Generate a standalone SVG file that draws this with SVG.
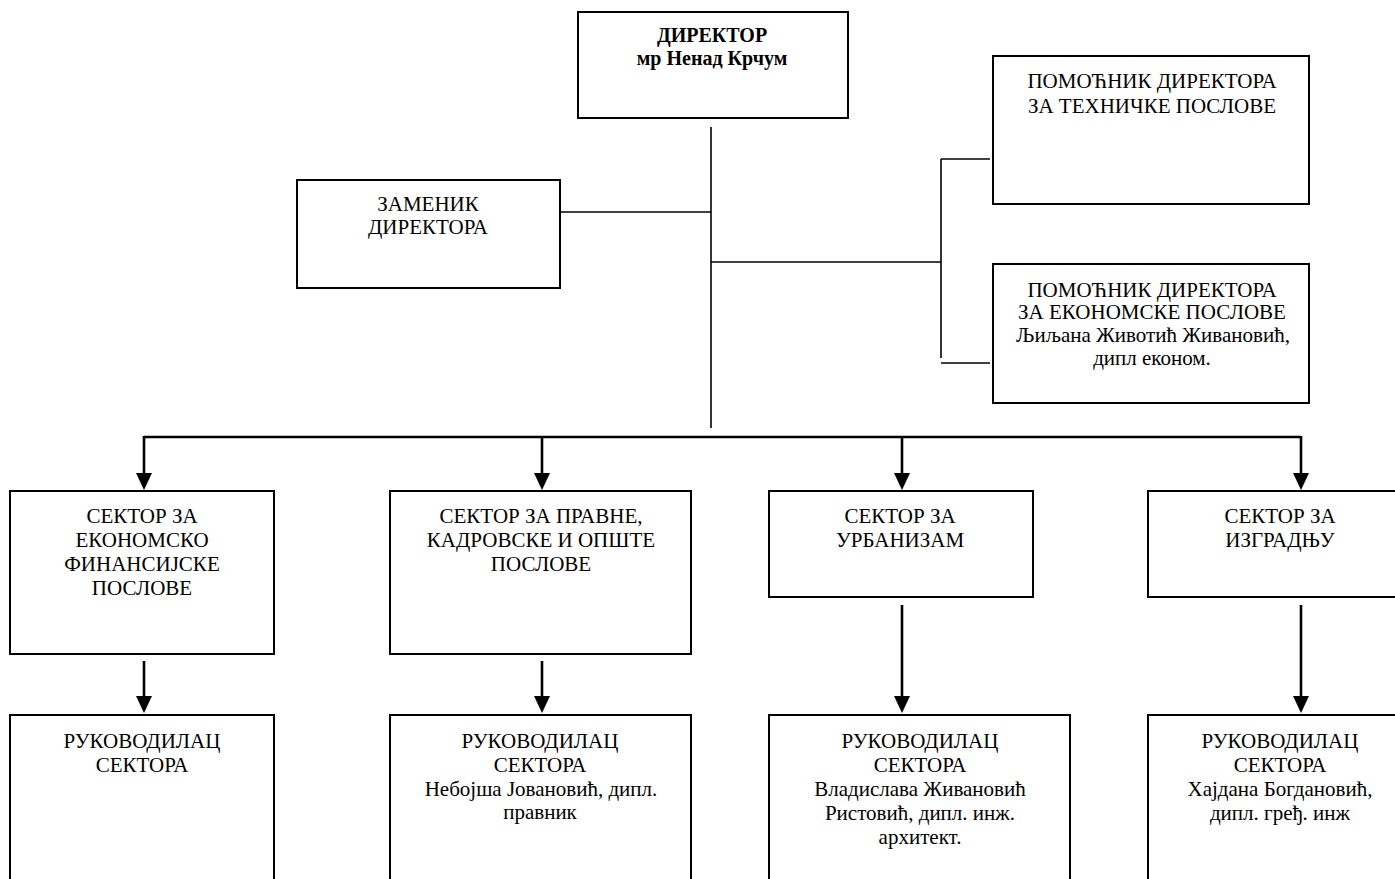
<svg xmlns="http://www.w3.org/2000/svg" width="1395" height="879" viewBox="0 0 1395 879">
<style>
.box{fill:#fff;stroke:#000;stroke-width:2}
.t{font-family:"Liberation Serif","Times New Roman",serif;font-size:21px;fill:#000;text-anchor:middle}
.b{font-weight:bold;font-size:20px}
.ln{stroke:#000;stroke-width:1.6;fill:none}
.ar{stroke:#000;stroke-width:2.6;fill:none}
.hd{fill:#000}
</style>
<rect width="1395" height="879" fill="#fff"/>
<g id="connectors">
<line class="ln" x1="711" y1="127" x2="711" y2="428"/>
<line class="ln" x1="561" y1="212" x2="711" y2="212"/>
<line class="ln" x1="711" y1="262" x2="941" y2="262"/>
<line class="ln" x1="941" y1="159" x2="941" y2="358"/>
<line class="ln" x1="941" y1="159" x2="990" y2="159"/>
<line class="ln" x1="941" y1="363" x2="990" y2="363"/>
<line class="ar" x1="144" y1="437" x2="1301" y2="437"/>
<line class="ar" x1="144" y1="436" x2="144" y2="474"/>
<path class="hd" d="M136,473 L152,473 L144,490 Z"/>
<line class="ar" x1="542" y1="437" x2="542" y2="474"/>
<path class="hd" d="M534,473 L550,473 L542,490 Z"/>
<line class="ar" x1="902" y1="437" x2="902" y2="474"/>
<path class="hd" d="M894,473 L910,473 L902,490 Z"/>
<line class="ar" x1="1301" y1="436" x2="1301" y2="474"/>
<path class="hd" d="M1293,473 L1309,473 L1301,490 Z"/>
<line class="ar" x1="144" y1="661" x2="144" y2="697"/>
<path class="hd" d="M136,696 L152,696 L144,713 Z"/>
<line class="ar" x1="542" y1="661" x2="542" y2="697"/>
<path class="hd" d="M534,696 L550,696 L542,713 Z"/>
<line class="ar" x1="902" y1="605" x2="902" y2="697"/>
<path class="hd" d="M894,696 L910,696 L902,713 Z"/>
<line class="ar" x1="1301" y1="605" x2="1301" y2="697"/>
<path class="hd" d="M1293,696 L1309,696 L1301,713 Z"/>
</g>
<g id="director">
<rect class="box" x="578" y="12" width="270" height="106"/>
<text class="t b" x="712" y="42">ДИРЕКТОР</text>
<text class="t b" x="712" y="65">мр Ненад Крчум</text>
</g>
<g id="zamenik">
<rect class="box" x="297" y="180" width="263" height="108"/>
<text class="t" x="428" y="211">ЗАМЕНИК</text>
<text class="t" x="428" y="234">ДИРЕКТОРА</text>
</g>
<g id="pomocnik-tehnicki">
<rect class="box" x="993" y="56" width="316" height="148"/>
<text class="t" x="1152" y="88">ПОМОЋНИК ДИРЕКТОРА</text>
<text class="t" x="1152" y="113">ЗА ТЕХНИЧКЕ ПОСЛОВЕ</text>
</g>
<g id="pomocnik-ekonomski">
<rect class="box" x="993" y="264" width="316" height="139"/>
<text class="t" x="1152" y="297">ПОМОЋНИК ДИРЕКТОРА</text>
<text class="t" x="1152" y="319">ЗА ЕКОНОМСКЕ ПОСЛОВЕ</text>
<text class="t" x="1153" y="342">Љиљана Животић Живановић,</text>
<text class="t" x="1152" y="365">дипл економ.</text>
</g>
<g id="sektor-ekonomsko">
<rect class="box" x="10" y="491" width="264" height="163"/>
<text class="t" x="142" y="523">СЕКТОР ЗА</text>
<text class="t" x="142" y="547">ЕКОНОМСКО</text>
<text class="t" x="142" y="571">ФИНАНСИЈСКЕ</text>
<text class="t" x="142" y="595">ПОСЛОВЕ</text>
</g>
<g id="sektor-pravne">
<rect class="box" x="390" y="491" width="301" height="163"/>
<text class="t" x="541" y="523">СЕКТОР ЗА ПРАВНЕ,</text>
<text class="t" x="541" y="547">КАДРОВСКЕ И ОПШТЕ</text>
<text class="t" x="541" y="571">ПОСЛОВЕ</text>
</g>
<g id="sektor-urbanizam">
<rect class="box" x="769" y="491" width="264" height="106"/>
<text class="t" x="900" y="523">СЕКТОР ЗА</text>
<text class="t" x="900" y="547">УРБАНИЗАМ</text>
</g>
<g id="sektor-izgradnja">
<rect class="box" x="1148" y="491" width="260" height="106"/>
<text class="t" x="1280" y="523">СЕКТОР ЗА</text>
<text class="t" x="1280" y="547">ИЗГРАДЊУ</text>
</g>
<g id="rukovodilac-1">
<rect class="box" x="10" y="715" width="264" height="200"/>
<text class="t" x="142" y="748">РУКОВОДИЛАЦ</text>
<text class="t" x="142" y="772">СЕКТОРА</text>
</g>
<g id="rukovodilac-2">
<rect class="box" x="390" y="715" width="301" height="200"/>
<text class="t" x="540" y="748">РУКОВОДИЛАЦ</text>
<text class="t" x="540" y="772">СЕКТОРА</text>
<text class="t" x="541" y="796">Небојша Јовановић, дипл.</text>
<text class="t" x="540" y="819">правник</text>
</g>
<g id="rukovodilac-3">
<rect class="box" x="769" y="715" width="301" height="200"/>
<text class="t" x="920" y="748">РУКОВОДИЛАЦ</text>
<text class="t" x="920" y="772">СЕКТОРА</text>
<text class="t" x="920" y="796">Владислава Живановић</text>
<text class="t" x="920" y="820">Ристовић, дипл. инж.</text>
<text class="t" x="920" y="844">архитект.</text>
</g>
<g id="rukovodilac-4">
<rect class="box" x="1148" y="715" width="260" height="200"/>
<text class="t" x="1280" y="748">РУКОВОДИЛАЦ</text>
<text class="t" x="1280" y="772">СЕКТОРА</text>
<text class="t" x="1280" y="796">Хајдана Богдановић,</text>
<text class="t" x="1280" y="820">дипл. гређ. инж</text>
</g>
</svg>
